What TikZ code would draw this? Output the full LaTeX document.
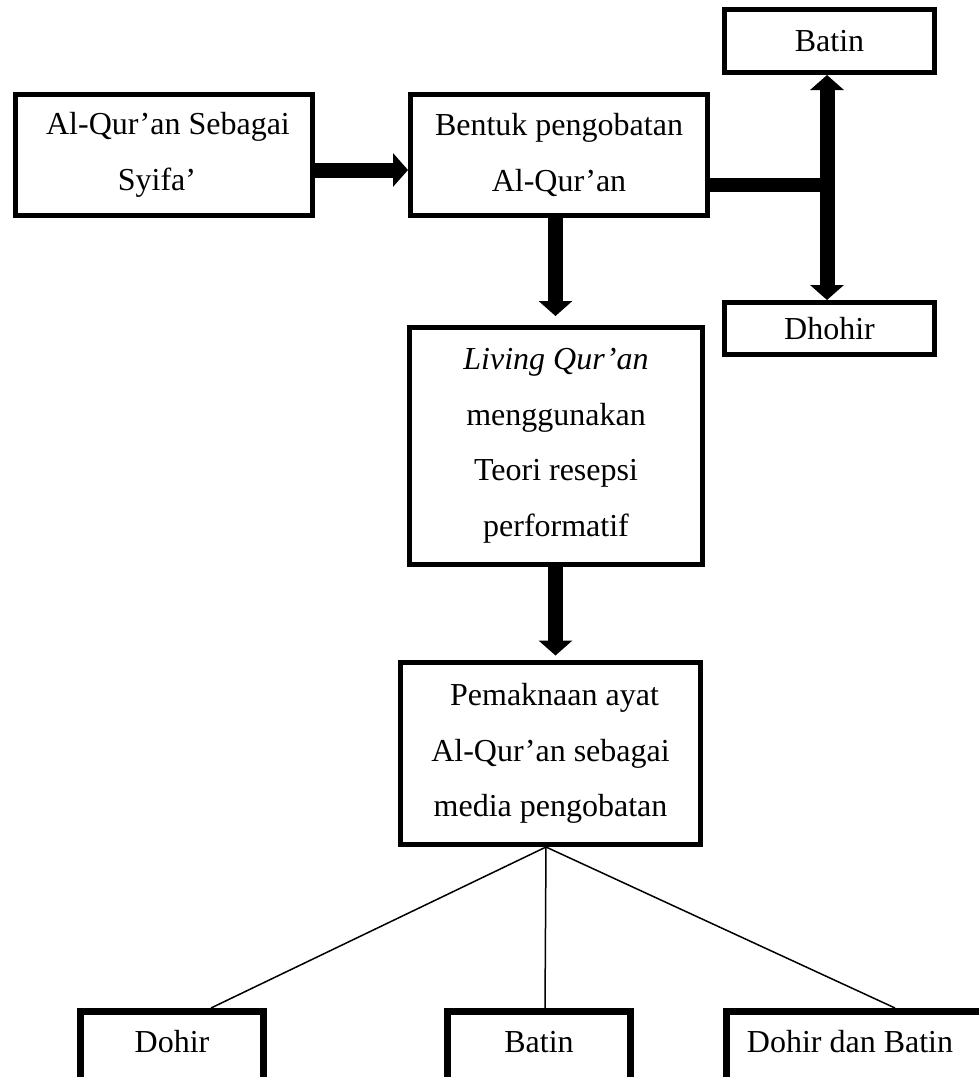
\documentclass[tikz,border=0pt]{standalone}
\usepackage{fontspec}
\setmainfont{Liberation Serif}
\usetikzlibrary{arrows.meta,calc}
\begin{document}
\begin{tikzpicture}[x=1pt,y=-1pt,
  box/.style={draw, line width=5pt, align=center, inner sep=0pt, font=\fontsize{32}{55.5}\selectfont},
  lowbox/.style={draw, line width=7pt, inner sep=0pt},
  lbl/.style={font=\fontsize{32}{38}\selectfont, anchor=base, inner sep=0pt},
  bigarrow/.style={line width=15pt, -{Triangle[width=33pt,length=15pt]}},
  twoarrow/.style={line width=15pt, {Triangle[width=33pt,length=15pt]}-{Triangle[width=33pt,length=15pt]}},
  bar/.style={line width=14pt},
  link/.style={line width=1.5pt}
]
\useasboundingbox (0,0) rectangle (979,1077);
\clip (0,0) rectangle (979,1077);

\node[box, minimum width=297pt, minimum height=121pt] (A) at (164,155) {\hspace*{8pt}Al-Qur’an Sebagai\\Syifa’\hspace*{14pt}};
\node[box, minimum width=297pt, minimum height=121pt] (B) at (559,155) {Bentuk pengobatan\\Al-Qur’an};
\node[box, minimum width=293pt, minimum height=237pt] (C) at (556,446) {\textit{Living Qur’an}\\menggunakan\\Teori resepsi\\performatif};
\node[box, minimum width=300pt, minimum height=182pt] (D) at (550.5,753.5) {\hspace*{8pt}Pemaknaan ayat\\Al-Qur’an sebagai\\media pengobatan};
\node[box, minimum width=210pt, minimum height=63pt] (T) at (829.5,41) {Batin};
\node[box, minimum width=210pt, minimum height=52pt] (H) at (829.5,328.5) {Dhohir};

\node[lowbox, minimum width=183pt, minimum height=138.5pt] (E1) at (172,1080.75) {};
\node[lowbox, minimum width=183pt, minimum height=138.5pt] (E2) at (539,1080.75) {};
\node[lowbox, minimum width=263.5pt, minimum height=138.5pt] (E3) at (858,1080.75) {};
\node[lbl] (e1) at (172,1052) {Dohir};
\node[lbl] (e2) at (539,1052) {Batin};
\node[lbl] (e3) at (850,1052) {Dohir dan Batin};

% arrows
\draw[bigarrow] ([yshift=-15pt]A.east) -- ([yshift=-15pt]B.west);
\coordinate (b1) at ([xshift=-3.5pt]B.south);
\coordinate (c1) at ([yshift=9pt]C.north);
\draw[bigarrow] (b1) -- (b1 |- c1);
\coordinate (c2) at ([xshift=-0.5pt]C.south);
\coordinate (d1) at ([yshift=4.5pt]D.north);
\draw[bigarrow] (c2) -- (c2 |- d1);

\coordinate (j) at (827,185);
\draw[bar] ([yshift=-30pt]B.east) -- (j);
\draw[twoarrow] (T.south -| j) -- (H.north -| j);

% tree lines
\coordinate (apex) at ([xshift=-4.5pt]D.south);
\draw[link] (apex) -- ([xshift=39pt]E1.north);
\draw[link] (apex) -- ([xshift=6pt]E2.north);
\draw[link] (apex) -- ([xshift=37pt]E3.north);
\end{tikzpicture}
\end{document}
